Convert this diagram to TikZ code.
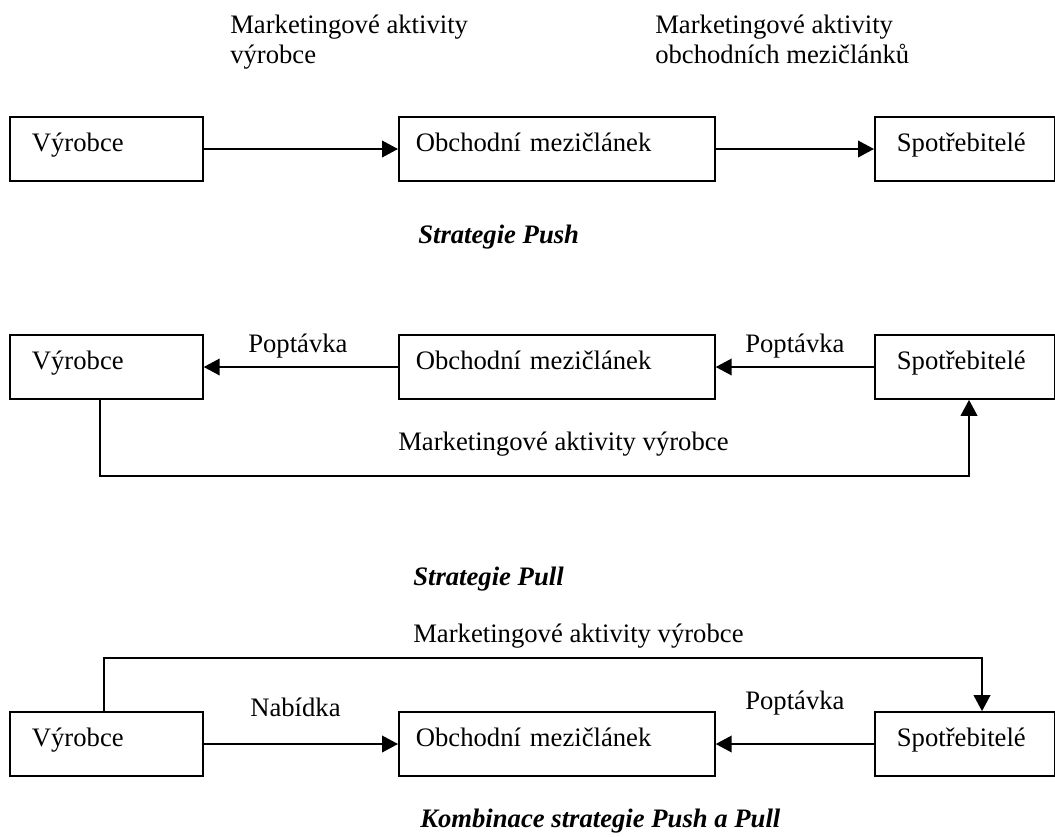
\documentclass[tikz,border=0pt]{standalone}
\usepackage{fontspec}
\setmainfont{Liberation Serif}
\usetikzlibrary{arrows.meta}
\tikzset{
    unit/.style={draw, line width=1.3pt, minimum height=48pt, anchor=west,
        align=left, text height=13pt, text depth=9pt,
        font=\fontsize{20}{22}\selectfont},
    lbl/.style={anchor=base west, inner sep=0pt, align=left,
        font=\fontsize{20}{22}\selectfont},
    capt/.style={anchor=base west, inner sep=0pt,
        font=\fontsize{20}{22}\selectfont\bfseries\itshape},
    flow/.style={line width=1.3pt, -{Triangle[length=12pt,width=12.5pt]}}
}
\begin{document}
\begin{tikzpicture}[x=0.75pt,y=-0.75pt]
    \useasboundingbox (0,0) rectangle (1055,836);

    % push
    \node[unit, text width=111.75pt, inner xsep=16.5pt] (v1) at (9,149) {Výrobce};
    \node[unit, text width=211.5pt, inner xsep=12.75pt] (o1) at (398,149) {Obchodní mezičlánek};
    \node[unit, text width=102pt, inner xsep=16.5pt] (s1) at (874,149) {Spotřebitelé};
    \node[lbl] (m1) at (230,63) {Marketingové aktivity\\výrobce};
    \node[lbl] (m2) at (655,63) {Marketingové aktivity\\obchodních mezičlánků};
    \node[capt] (c1) at (418,243) {Strategie Push};

    \draw[flow] (v1.east) -- (o1.west);
    \draw[flow] (o1.east) -- (s1.west);

    % pull
    \node[unit, text width=111.75pt, inner xsep=16.5pt] (v2) at (9,367) {Výrobce};
    \node[unit, text width=211.5pt, inner xsep=12.75pt] (o2) at (398,367) {Obchodní mezičlánek};
    \node[unit, text width=102pt, inner xsep=16.5pt] (s2) at (874,367) {Spotřebitelé};
    \node[lbl] (p1) at (248,352) {Poptávka};
    \node[lbl] (p2) at (745,352) {Poptávka};
    \node[lbl] (m3) at (398,450) {Marketingové aktivity výrobce};
    \node[capt] (c2) at (413,585) {Strategie Pull};
    \coordinate (loopL) at (100,476);
    \coordinate (loopR) at (969,476);

    \draw[flow] (o2.west) -- (v2.east);
    \draw[flow] (s2.west) -- (o2.east);
    \draw[flow] (v2.south -| loopL) -- (loopL) -- (loopR) -- (s2.south -| loopR);

    % push and pull
    \node[unit, text width=111.75pt, inner xsep=16.5pt] (v3) at (9,744) {Výrobce};
    \node[unit, text width=211.5pt, inner xsep=12.75pt] (o3) at (398,744) {Obchodní mezičlánek};
    \node[unit, text width=102pt, inner xsep=16.5pt] (s3) at (874,744) {Spotřebitelé};
    \node[lbl] (n1) at (250,716) {Nabídka};
    \node[lbl] (p3) at (745,709) {Poptávka};
    \node[lbl] (m4) at (413,642) {Marketingové aktivity výrobce};
    \node[capt] (c3) at (420,827) {Kombinace strategie Push a Pull};
    \coordinate (topL) at (104,658);
    \coordinate (topR) at (982,658);

    \draw[flow] (v3.east) -- (o3.west);
    \draw[flow] (s3.west) -- (o3.east);
    \draw[flow] (v3.north -| topL) -- (topL) -- (topR) -- (s3.north -| topR);
\end{tikzpicture}
\end{document}
